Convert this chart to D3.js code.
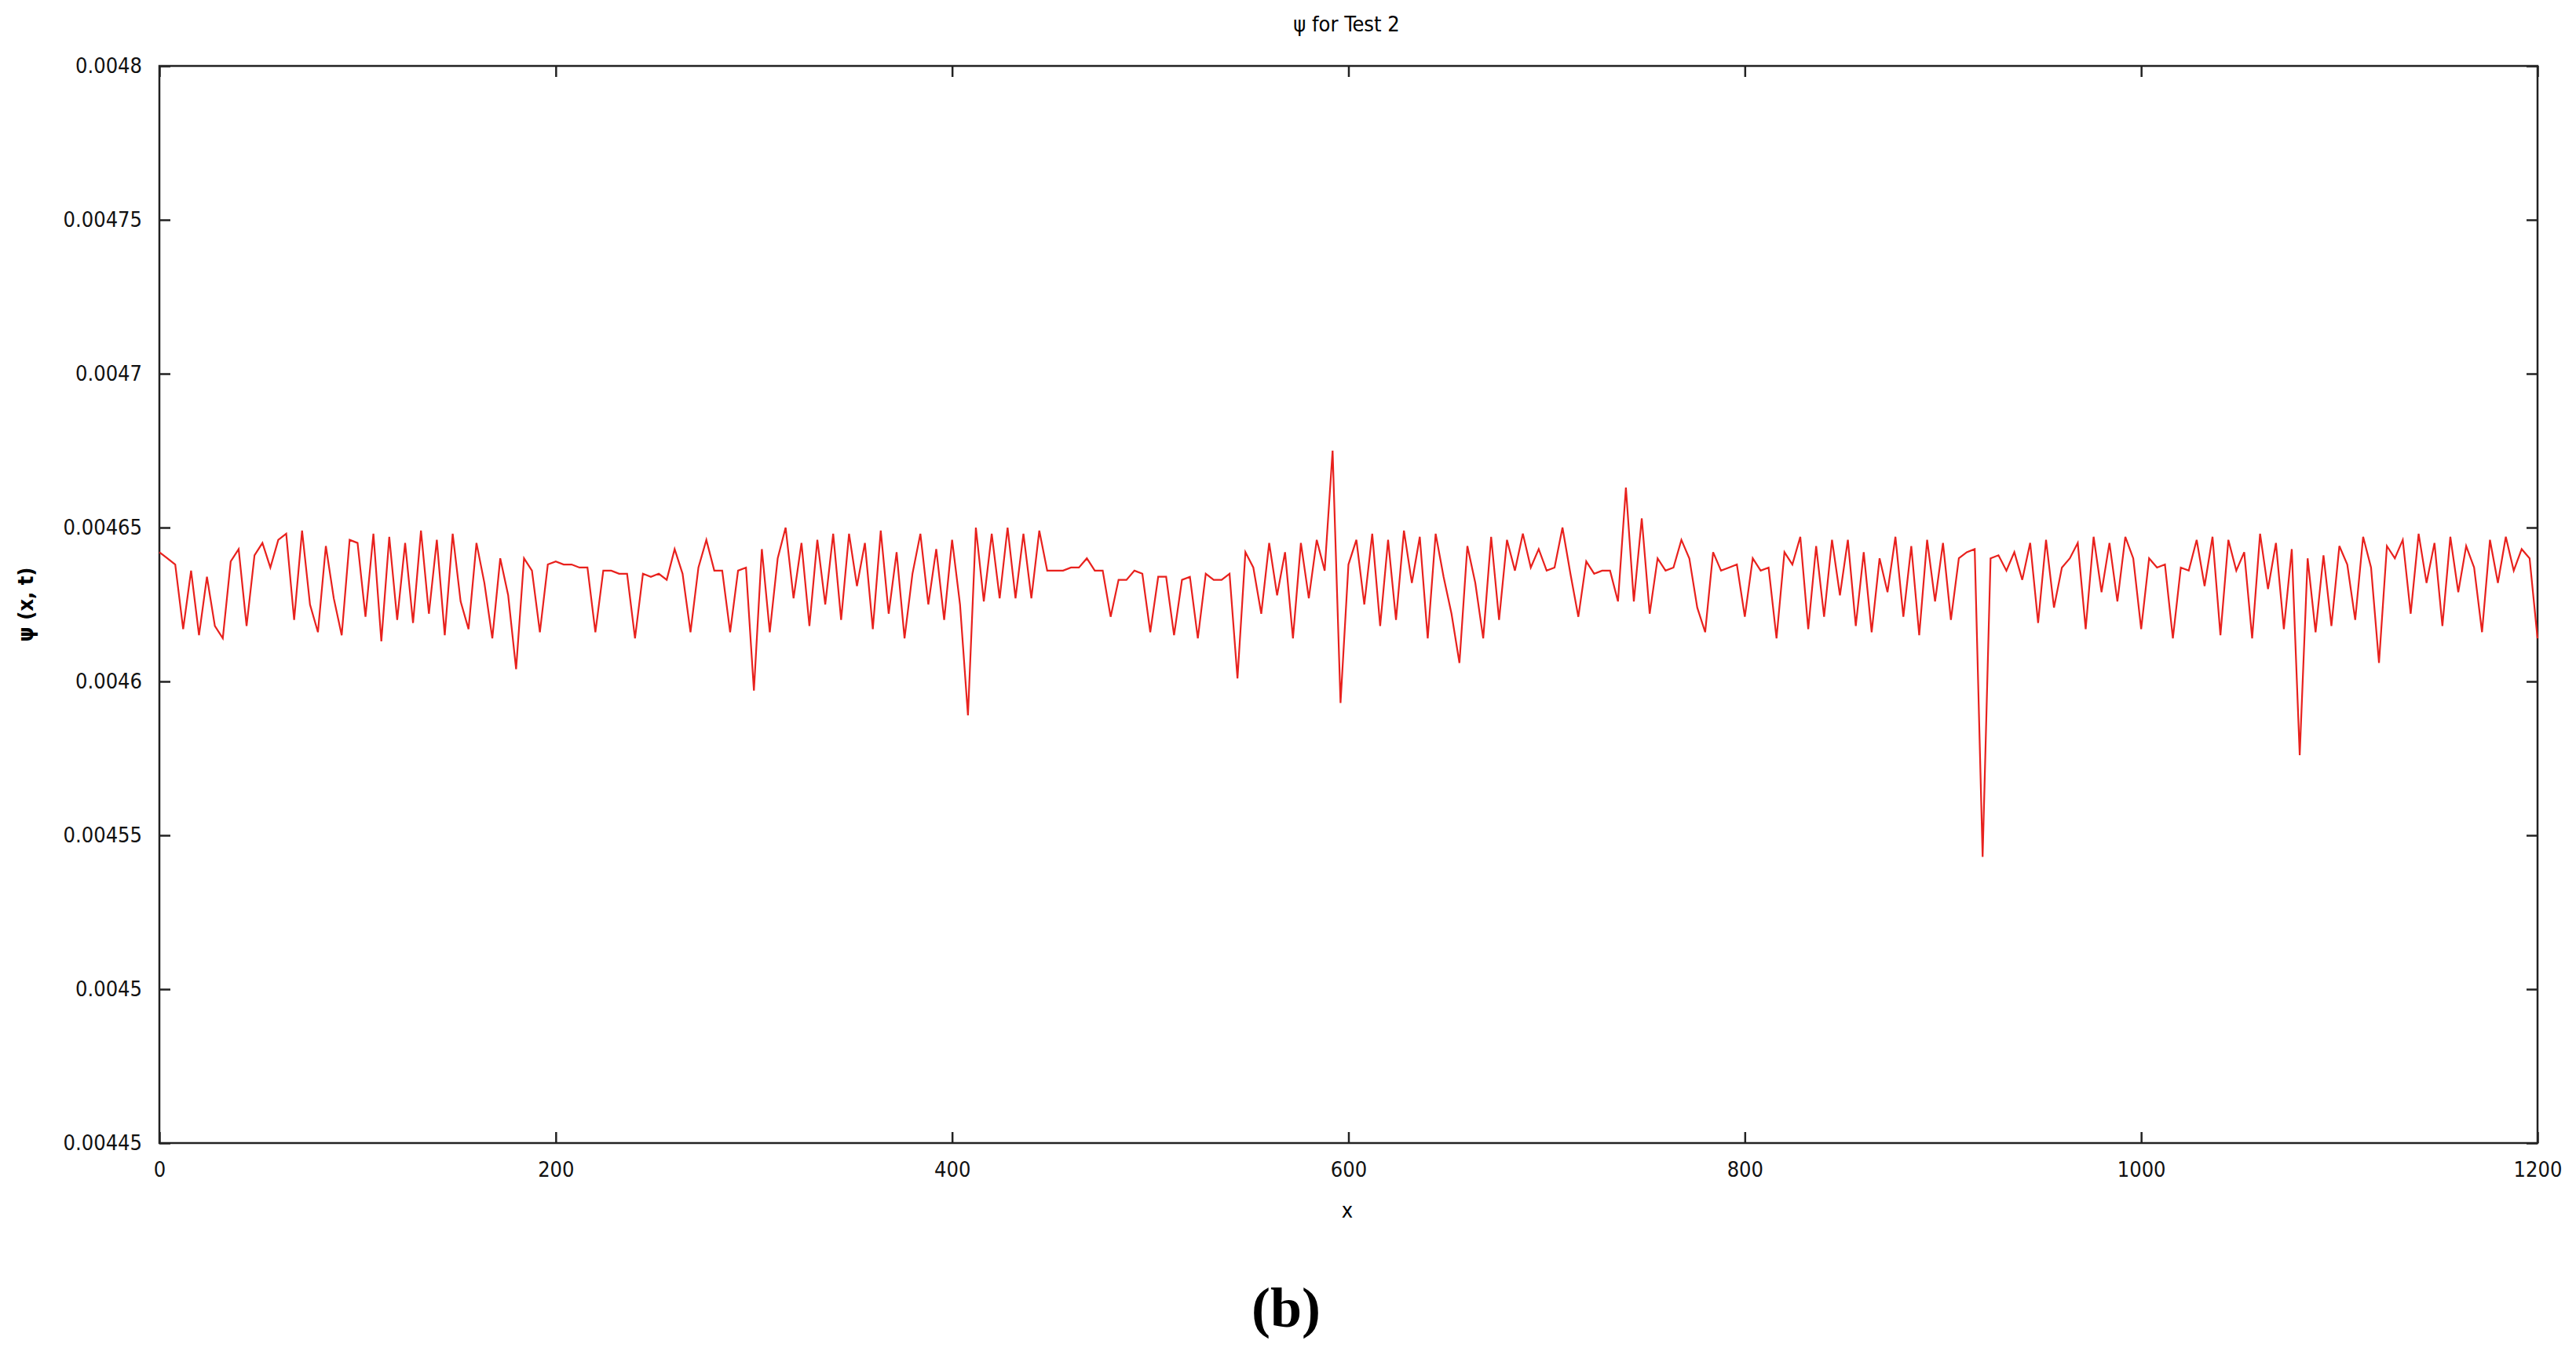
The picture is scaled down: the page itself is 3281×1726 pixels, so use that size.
<!DOCTYPE html>
<html>
<head>
<meta charset="utf-8">
<script src="https://cdn.jsdelivr.net/npm/d3@7"></script>
<style>
  body { margin: 0; background: #fff; }
  text { font-family: "DejaVu Sans Condensed", "DejaVu Sans", sans-serif; }
</style>
</head>
<body>
<svg></svg>
<script>
// psi values in units of 1e-6, sampled every 4 along x (0..1200)
var psiMicro = [
  4642,4640,4638,4617,4636,4615,4634,4618,4614,4639,4643,4618,4641,4645,4637,4646,4648,4620,4649,4625,4616,4644,4627,4615,4646,
  4645,4621,4648,4613,4647,4620,4645,4619,4649,4622,4646,4615,4648,4626,4617,4645,4632,4614,4640,4628,4604,4640,4636,4616,4638,
  4639,4638,4638,4637,4637,4616,4636,4636,4635,4635,4614,4635,4634,4635,4633,4643,4635,4616,4637,4646,4636,4636,4616,4636,4637,
  4597,4643,4616,4640,4650,4627,4645,4618,4646,4625,4648,4620,4648,4631,4645,4617,4649,4622,4642,4614,4635,4648,4625,4643,4620,
  4646,4625,4589,4650,4626,4648,4627,4650,4627,4648,4627,4649,4636,4636,4636,4637,4637,4640,4636,4636,4621,4633,4633,4636,4635,
  4616,4634,4634,4615,4633,4634,4614,4635,4633,4633,4635,4601,4642,4637,4622,4645,4628,4642,4614,4645,4627,4646,4636,4675,4593,
  4638,4646,4625,4648,4618,4646,4620,4649,4632,4647,4614,4648,4634,4622,4606,4644,4632,4614,4647,4620,4646,4636,4648,4637,4643,
  4636,4637,4650,4635,4621,4639,4635,4636,4636,4626,4663,4626,4653,4622,4640,4636,4637,4646,4640,4624,4616,4642,4636,4637,4638,
  4621,4640,4636,4637,4614,4642,4638,4647,4617,4644,4621,4646,4628,4646,4618,4642,4616,4640,4629,4647,4621,4644,4615,4646,4626,
  4645,4620,4640,4642,4643,4543,4640,4641,4636,4642,4633,4645,4619,4646,4624,4637,4640,4645,4617,4647,4629,4645,4626,4647,4640,
  4617,4640,4637,4638,4614,4637,4636,4646,4631,4647,4615,4646,4636,4642,4614,4648,4630,4645,4617,4643,4576,4640,4616,4641,4618,
  4644,4638,4620,4647,4637,4606,4644,4640,4646,4622,4648,4632,4645,4618,4647,4629,4644,4637,4616,4646,4632,4647,4636,4643,4640,4614
];
var xStep = 4;
var yTicks = [0.00445, 0.0045, 0.00455, 0.0046, 0.00465, 0.0047, 0.00475, 0.0048];
var xTicks = [0, 200, 400, 600, 800, 1000, 1200];

(function() {
var data = psiMicro.map(function(v, i) { return [Math.min(i * xStep, 1200), v * 1e-6]; });

var W = 3281, H = 1726;
var mLeft = 203, mRight = 3232, mTop = 84, mBottom = 1456;
var svg = d3.select("svg").attr("width", W).attr("height", H);

var x = d3.scaleLinear().domain([0, 1200]).range([mLeft, mRight]);
var y = d3.scaleLinear().domain([0.00445, 0.0048]).range([mBottom, mTop]);

// ticks inward on all sides
svg.append("g").attr("transform", "translate(0," + mBottom + ")")
  .call(d3.axisBottom(x).tickValues(xTicks).tickSize(-14).tickPadding(24).tickFormat(d3.format("d")));
svg.append("g").attr("transform", "translate(0," + mTop + ")")
  .call(d3.axisTop(x).tickValues(xTicks).tickSize(-14).tickFormat(""));
svg.append("g").attr("transform", "translate(" + mLeft + ",0)")
  .call(d3.axisLeft(y).tickValues(yTicks).tickSize(-14).tickPadding(22).tickFormat(function(d) { return +d.toFixed(5) + ""; }));
svg.append("g").attr("transform", "translate(" + mRight + ",0)")
  .call(d3.axisRight(y).tickValues(yTicks).tickSize(-14).tickFormat(""));
svg.selectAll(".domain").remove();
svg.selectAll(".tick line").attr("stroke", "#222").attr("stroke-width", 2.5);
svg.selectAll(".tick text").attr("font-size", 27).attr("fill", "#111");

svg.append("rect").attr("x", mLeft).attr("y", mTop)
  .attr("width", mRight - mLeft).attr("height", mBottom - mTop)
  .attr("fill", "none").attr("stroke", "#222").attr("stroke-width", 2.5);

svg.append("path").datum(data)
  .attr("fill", "none").attr("stroke", "#e8211d").attr("stroke-width", 2.2)
  .attr("d", d3.line().x(function(d) { return x(d[0]); }).y(function(d) { return y(d[1]); }));

svg.append("text").attr("x", 1715).attr("y", 40).attr("text-anchor", "middle")
  .attr("font-size", 27).text("ψ for Test 2");
svg.append("text").attr("x", 1716).attr("y", 1551).attr("text-anchor", "middle")
  .attr("font-size", 27).text("x");
svg.append("text").attr("transform", "translate(42," + ((mTop + mBottom) / 2) + ") rotate(-90)")
  .attr("text-anchor", "middle").attr("font-size", 27).attr("font-weight", "bold").text("ψ (x, t)");
svg.append("text").attr("x", 1638).attr("y", 1690).attr("text-anchor", "middle")
  .attr("font-size", 72).attr("font-weight", "bold")
  .style("font-family", "'Liberation Serif', 'DejaVu Serif', serif").text("(b)");
})();
</script>
</body>
</html>
